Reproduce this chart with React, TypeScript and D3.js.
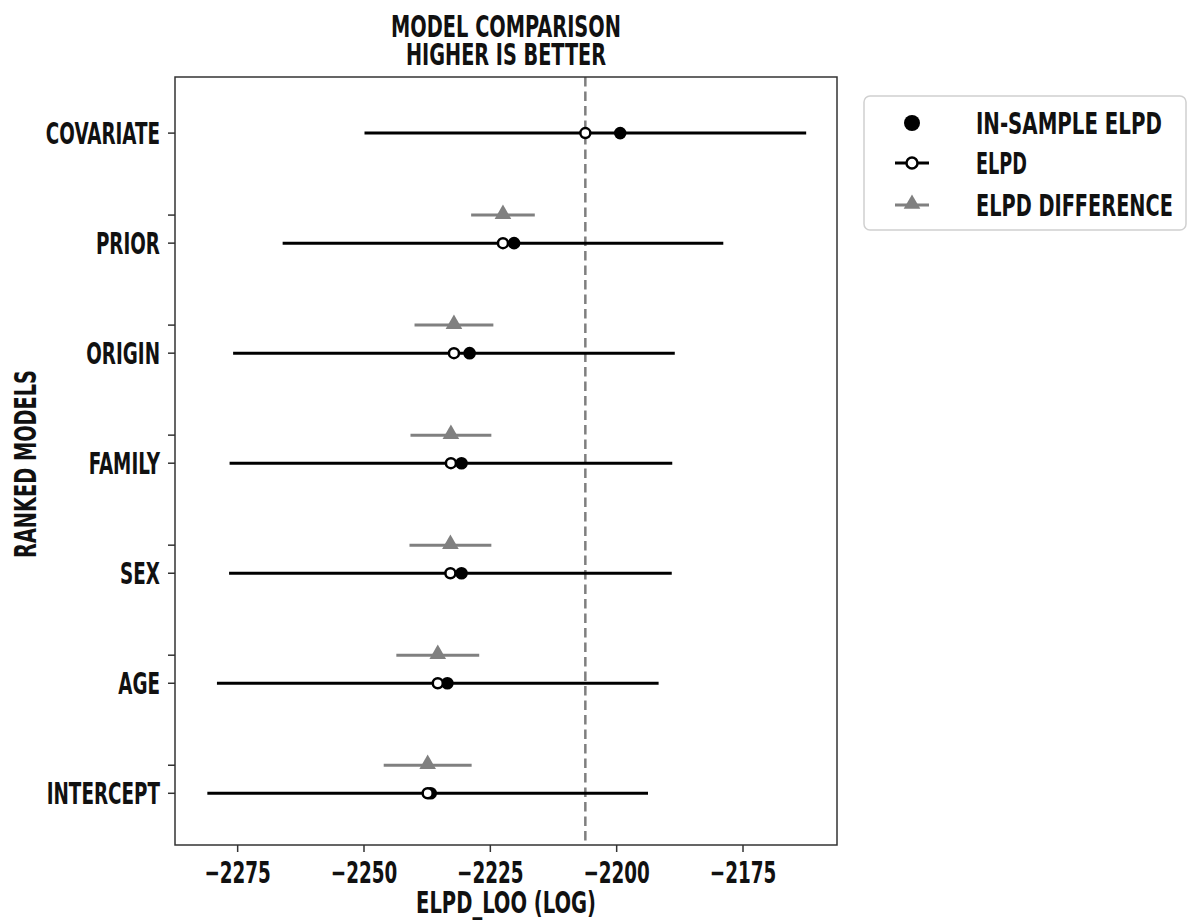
import { useEffect, useRef } from 'react';
import * as d3 from 'd3';

// model ranking, best first
const models = ['COVARIATE', 'PRIOR', 'ORIGIN', 'FAMILY', 'SEX', 'AGE', 'INTERCEPT'];
const elpdLoo = [-2206.2, -2222.5, -2232.2, -2232.8, -2232.9, -2235.4, -2237.4];
const elpdSe = [43.7, 43.6, 43.7, 43.8, 43.8, 43.7, 43.6];
const inSampleElpd = [-2199.3, -2220.3, -2229.1, -2230.7, -2230.7, -2233.5, -2236.8];
const diffSe = [0, 6.3, 7.8, 8.0, 8.1, 8.2, 8.7];
const xTicks = [-2275, -2250, -2225, -2200, -2175];
const legendLabels = ['IN-SAMPLE ELPD', 'ELPD', 'ELPD DIFFERENCE'];

const FONT = '"Liberation Sans Narrow", "DejaVu Sans Condensed", "Liberation Sans", sans-serif';
const SX = 0.68; // squeeze tick labels horizontally to get the condensed look

const App = () => {
  const svgRef = useRef<SVGSVGElement>(null);

  useEffect(() => {
    const width = 1188;
    const height = 921;
    const svg = d3.select(svgRef.current);
    svg.selectAll('*').remove();
    svg.attr('width', width).attr('height', height);

    const plot = { left: 175, right: 837, top: 77, bottom: 845 };

    const x = d3.scaleLinear().domain([-2287.4, -2156.4]).range([plot.left, plot.right]);
    const y = d3.scaleLinear().domain([-0.51, models.length - 0.53]).range([plot.top, plot.bottom]);
    const diffOffset = 0.255;

    // condensed text; if a width is given the text is squeezed to fit it
    const label = (g, tx, ty, text, size, anchor = 'middle', fitWidth = 0, rot = 0) => {
      const t = g.append('text')
        .attr('text-anchor', anchor)
        .attr('font-family', FONT)
        .attr('font-weight', 'bold')
        .attr('font-size', size)
        .attr('fill', '#111')
        .text(text);
      let sx = SX;
      if (fitWidth) {
        const len = (t.node() as SVGTextElement).getComputedTextLength();
        if (len > 0) sx = fitWidth / len;
      }
      t.attr('transform', `translate(${tx},${ty}) rotate(${rot}) scale(${sx},1)`);
      return t;
    };

    svg.append('rect').attr('width', width).attr('height', height).attr('fill', 'white');

    // title
    const mid = (plot.left + plot.right) / 2;
    const title = svg.append('g');
    label(title, mid, 37, 'MODEL COMPARISON', 30, 'middle', 230);
    label(title, mid, 65, 'HIGHER IS BETTER', 30, 'middle', 200);

    // best model reference line
    svg.append('line')
      .attr('x1', x(elpdLoo[0])).attr('x2', x(elpdLoo[0]))
      .attr('y1', plot.top).attr('y2', plot.bottom)
      .attr('stroke', '#7f7f7f').attr('stroke-width', 2.5)
      .attr('stroke-dasharray', '9.5,5');

    const idx = d3.range(models.length);

    // elpd standard error bars
    svg.append('g').selectAll('line').data(idx).join('line')
      .attr('x1', i => x(elpdLoo[i] - elpdSe[i]))
      .attr('x2', i => x(elpdLoo[i] + elpdSe[i]))
      .attr('y1', i => y(i)).attr('y2', i => y(i))
      .attr('stroke', 'black').attr('stroke-width', 3);

    // difference bars (skip the best model)
    const diffIdx = idx.slice(1);
    svg.append('g').selectAll('line').data(diffIdx).join('line')
      .attr('x1', i => x(elpdLoo[i] - diffSe[i]))
      .attr('x2', i => x(elpdLoo[i] + diffSe[i]))
      .attr('y1', i => y(i - diffOffset)).attr('y2', i => y(i - diffOffset))
      .attr('stroke', '#808080').attr('stroke-width', 3);

    const tri = d3.symbol(d3.symbolTriangle, 120)();
    svg.append('g').selectAll('path').data(diffIdx).join('path')
      .attr('d', tri)
      .attr('transform', i => `translate(${x(elpdLoo[i])},${y(i - diffOffset) - 1})`)
      .attr('fill', '#808080');

    // in-sample points
    svg.append('g').selectAll('circle').data(idx).join('circle')
      .attr('cx', i => x(inSampleElpd[i]))
      .attr('cy', i => y(i))
      .attr('r', 6.3)
      .attr('fill', 'black');

    // loo points
    svg.append('g').selectAll('circle').data(idx).join('circle')
      .attr('cx', i => x(elpdLoo[i]))
      .attr('cy', i => y(i))
      .attr('r', 5)
      .attr('fill', 'white')
      .attr('stroke', 'black')
      .attr('stroke-width', 2.5);

    // frame
    svg.append('rect')
      .attr('x', plot.left).attr('y', plot.top)
      .attr('width', plot.right - plot.left).attr('height', plot.bottom - plot.top)
      .attr('fill', 'none').attr('stroke', '#333').attr('stroke-width', 1.5);

    // x axis
    const xAxis = svg.append('g');
    xAxis.selectAll('line').data(xTicks).join('line')
      .attr('x1', d => x(d)).attr('x2', d => x(d))
      .attr('y1', plot.bottom).attr('y2', plot.bottom + 7)
      .attr('stroke', '#333').attr('stroke-width', 1.5);
    xTicks.forEach(t => label(xAxis, x(t), 883, d3.format('d')(t).replace('-', '\u2212'), 30));
    label(svg, mid, 913, 'ELPD_LOO (LOG)', 30, 'middle', 180);

    // y axis, major ticks at models and minor ticks at the differences
    const yAxis = svg.append('g');
    yAxis.selectAll('line.major').data(idx).join('line')
      .attr('class', 'major')
      .attr('x1', plot.left - 7).attr('x2', plot.left)
      .attr('y1', i => y(i)).attr('y2', i => y(i))
      .attr('stroke', '#333').attr('stroke-width', 1.5);
    yAxis.selectAll('line.minor').data(diffIdx).join('line')
      .attr('class', 'minor')
      .attr('x1', plot.left - 7).attr('x2', plot.left)
      .attr('y1', i => y(i - diffOffset)).attr('y2', i => y(i - diffOffset))
      .attr('stroke', '#333').attr('stroke-width', 1.5);
    idx.forEach(i => label(yAxis, 160, y(i) + 11, models[i], 30, 'end'));

    label(svg, 36, (plot.top + plot.bottom) / 2 + 3, 'RANKED MODELS', 30, 'middle', 188, -90);

    // legend
    const legend = svg.append('g').attr('transform', 'translate(864,96)');
    legend.append('rect')
      .attr('width', 322).attr('height', 134).attr('rx', 6)
      .attr('fill', 'white').attr('stroke', '#d0d0d0').attr('stroke-width', 1.5);
    const rowY = [27, 67, 109];
    const mx = 48;
    legend.append('circle').attr('cx', mx).attr('cy', rowY[0]).attr('r', 8).attr('fill', 'black');
    legend.append('line').attr('x1', mx - 17).attr('x2', mx + 17).attr('y1', rowY[1]).attr('y2', rowY[1])
      .attr('stroke', 'black').attr('stroke-width', 3);
    legend.append('circle').attr('cx', mx).attr('cy', rowY[1]).attr('r', 5.5)
      .attr('fill', 'white').attr('stroke', 'black').attr('stroke-width', 2.5);
    legend.append('line').attr('x1', mx - 17).attr('x2', mx + 17).attr('y1', rowY[2]).attr('y2', rowY[2])
      .attr('stroke', '#808080').attr('stroke-width', 3);
    legend.append('path').attr('d', tri).attr('transform', `translate(${mx},${rowY[2] - 1})`).attr('fill', '#808080');
    const legendWidths = [186, 51, 197];
    legendLabels.forEach((t, i) => label(legend, 112, rowY[i] + 11, t, 31, 'start', legendWidths[i]));
  }, []);

  return <svg ref={svgRef} style={{ display: 'block', position: 'absolute', left: 0, top: 0 }} />;
};

export default App;
